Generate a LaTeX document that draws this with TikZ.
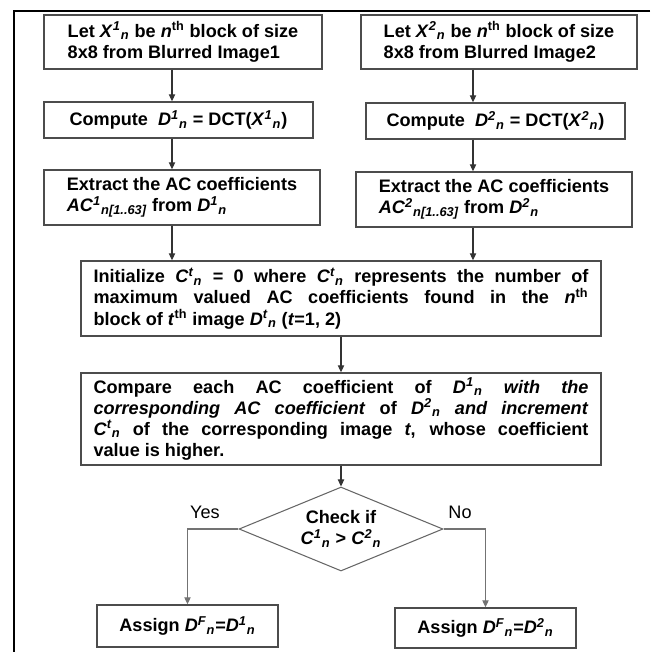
\documentclass[tikz,border=0pt]{standalone}
\usepackage{fontspec}
\setmainfont{Liberation Sans}
\usetikzlibrary{shapes.geometric,arrows.meta}
\newcommand{\scrfont}{\fontsize{7.3}{7.3}\selectfont\bfseries\itshape}
\newcommand{\idx}[3]{\textbf{\textit{#1}}\ensuremath{^{\hbox{\scrfont #2}}}\ensuremath{_{\hbox{\scrfont #3}}}}
\begin{document}
\begin{tikzpicture}[x=0.02cm,y=-0.02cm]\tikzstyle{every node}=[font=\fontsize{10.3}{12}\selectfont]
\tikzstyle{box}=[draw=black!70, line width=0.8pt, inner sep=0pt, font=\fontsize{10.3}{12}\selectfont\bfseries]
\tikzstyle{link}=[draw=black!80, line width=0.6pt, -{Triangle[length=4pt,width=3.6pt]}]
\useasboundingbox (0,0) rectangle (650,652);
% frame
\draw[line width=1.1pt] (650,11) -- (14,11) -- (14,652);
\coordinate (colL) at (172,0);
\coordinate (colR) at (473,0);
% block of image 1
  \node[box, align=left, minimum width=5.56cm, minimum height=1.08cm] (blk1) at (183,42)%
{Let \idx{X}{1}{n} be \textit{n}\textsuperscript{th} block of size\\8x8 from Blurred Image1};
% block of image 2
  \node[box, align=left, minimum width=5.52cm, minimum height=1.08cm] (blk2) at (499,42)%
{Let \idx{X}{2}{n} be \textit{n}\textsuperscript{th} block of size\\8x8 from Blurred Image2};
% dct 1
  \node[box, minimum width=5.38cm, minimum height=0.72cm] (dct1) at (178.5,120)%
{Compute~ \idx{D}{1}{n} = DCT(\idx{X}{1}{n})};
% dct 2
  \node[box, minimum width=5.18cm, minimum height=0.72cm] (dct2) at (495.5,121)%
{Compute~ \idx{D}{2}{n} = DCT(\idx{X}{2}{n})};
% ac 1
  \node[box, align=left, minimum width=5.52cm, minimum height=1.1cm] (ac1) at (182,197.5)%
{Extract the AC coefficients\\\idx{AC}{1}{n[1..63]} from \idx{D}{1}{n}};
% ac 2
  \node[box, align=left, minimum width=5.52cm, minimum height=1.1cm] (ac2) at (494,199.5)%
{Extract the AC coefficients\\\idx{AC}{2}{n[1..63]} from \idx{D}{2}{n}};
% init
  \node[box, align=justify, text width=9.9cm, minimum width=10.4cm, minimum height=1.5cm] (init) at (341,298.5)%
{Initialize \idx{C}{t}{n} = 0 where \idx{C}{t}{n} represents the number of\linebreak
maximum valued AC coefficients found in the \textit{n}\textsuperscript{th}\linebreak
block of \textit{t}\textsuperscript{th} image \idx{D}{t}{n} (\textit{t}=1, 2)};
% compare
  \node[box, align=justify, text width=9.9cm, minimum width=10.4cm, minimum height=1.84cm] (comp) at (341,419)%
{Compare each AC coefficient of \idx{D}{1}{n} \textit{with the}\linebreak
\textit{corresponding AC coefficient} of \idx{D}{2}{n} \textit{and increment}\linebreak
\idx{C}{t}{n} of the corresponding image \textit{t}, whose coefficient\linebreak
value is higher.};
% check
  \node[box, diamond, aspect=2.4, draw=black!60, line width=0.6pt, align=center, minimum width=4.08cm, minimum height=1.68cm] (chk) at (341,529)%
{Check if\\\idx{C}{1}{n} > \idx{C}{2}{n}};
% assign
  \node[box, minimum width=3.62cm, minimum height=0.84cm] (asg1) at (187.5,626)%
{Assign \idx{D}{F}{n}=\idx{D}{1}{n}};
  \node[box, minimum width=3.62cm, minimum height=0.8cm] (asg2) at (485.5,628)%
{Assign \idx{D}{F}{n}=\idx{D}{2}{n}};
\node (yes) at (205,512) {Yes};
\node (no) at (460,512) {No};
%%%%%%%%%%%%%%%%
\draw[link] (blk1.south -| colL) -- (dct1.north -| colL);
\draw[link] (dct1.south -| colL) -- (ac1.north -| colL);
\draw[link] (ac1.south -| colL) -- (init.north -| colL);
\draw[link] (blk2.south -| colR) -- (dct2.north -| colR);
\draw[link] (dct2.south -| colR) -- (ac2.north -| colR);
\draw[link] (ac2.south -| colR) -- (init.north -| colR);
\draw[link] (init.south) -- (comp.north);
\draw[link] (comp.south) -- (chk.north);
\draw[link, draw=black!55] (chk.west) -| (asg1.north);
\draw[link, draw=black!55] (chk.east) -| (asg2.north);
\end{tikzpicture}
\end{document}
